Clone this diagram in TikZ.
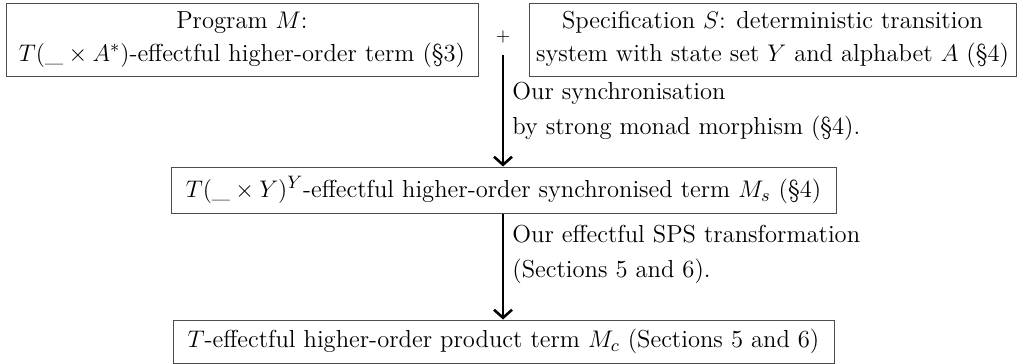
\documentclass[tikz,border=0pt]{standalone}
\usetikzlibrary{arrows.meta}
\begin{document}
\begin{tikzpicture}[x=0.5pt,y=-0.5pt,
  every node/.style={font=\fontsize{12.3}{16.5}\selectfont},
  box/.style={draw=black!70, line width=0.5pt, align=center, inner sep=0pt},
  flow/.style={line width=1.3pt, -{Straight Barb[length=4pt,width=9pt,line width=1.3pt]}},
  lbl/.style={align=left, anchor=west, inner sep=0pt, font=\fontsize{12.3}{17.5}\selectfont}]
\useasboundingbox (0,0) rectangle (1018,364);
\node[box, minimum width=236pt, minimum height=36.5pt] (prog) at (242,39.5)
  {Program $M$:\\ $T(\_\times A^{*})$-effectful higher-order term (\S3)};
\node[box, minimum width=243.5pt, minimum height=36.5pt] (spec) at (772.5,39.5)
  {Specification $S$: deterministic transition\\ system with state set $Y$ and alphabet $A$ (\S4)};
\node[inner sep=0pt, font=\fontsize{9}{10}\selectfont] (plus) at (503,37) {$+$};
\node[box, minimum width=332.5pt, minimum height=23pt] (sync) at (503.5,190)
  {$T(\_\times Y)^{Y}$-effectful higher-order synchronised term $M_s$ (\S4)};
\node[box, minimum width=330.5pt, minimum height=21.5pt] (prod) at (503.5,341.5)
  {$T$-effectful higher-order product term $M_c$ (Sections 5 and 6)};
\coordinate (start) at (503,55);
\draw[flow] (start) -- (sync.north -| start);
\draw[flow] (sync.south -| start) -- (prod.north -| start);
\node[lbl] (l1) at (512,111) {Our synchronisation\\ by strong monad morphism (\S4).};
\node[lbl] (l2) at (512,254) {Our effectful SPS transformation\\ (Sections 5 and 6).};
\end{tikzpicture}
\end{document}
